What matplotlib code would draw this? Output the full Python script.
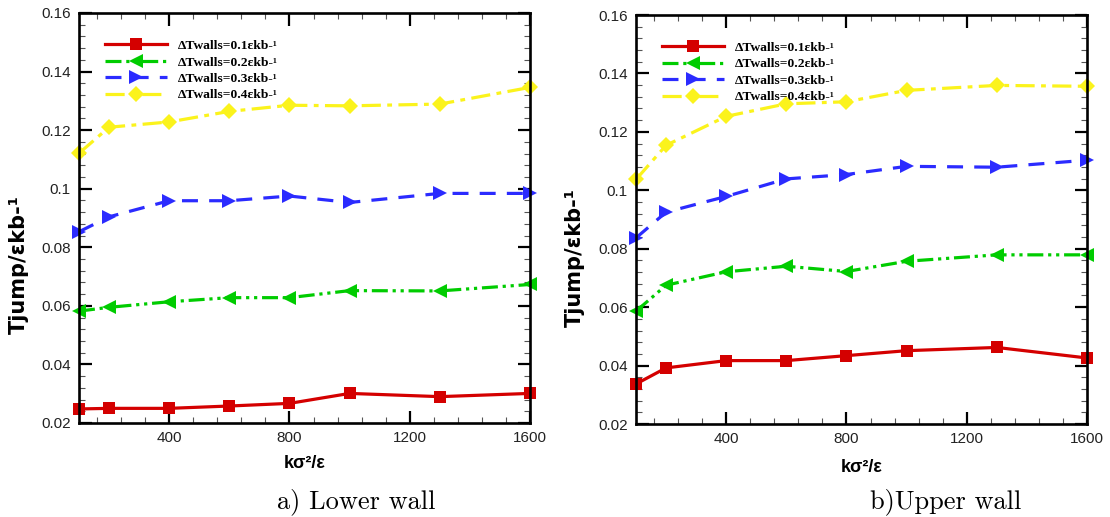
import numpy as np
import matplotlib
matplotlib.use("Agg")
import matplotlib.pyplot as plt
from matplotlib.ticker import MultipleLocator, FuncFormatter

# k sigma^2 / epsilon
k_vals = [100, 200, 400, 600, 800, 1000, 1300, 1600]

# lower wall
lower_01 = [0.0248, 0.0250, 0.0250, 0.0258, 0.0267, 0.0301, 0.0290, 0.0301]
lower_02 = [0.0582, 0.0595, 0.0614, 0.0628, 0.0628, 0.0652, 0.0651, 0.0673]
lower_03 = [0.0853, 0.0904, 0.0959, 0.0959, 0.0975, 0.0953, 0.0984, 0.0984]
lower_04 = [0.1121, 0.1210, 0.1228, 0.1264, 0.1285, 0.1283, 0.1289, 0.1346]

# upper wall
upper_01 = [0.0337, 0.0392, 0.0417, 0.0417, 0.0434, 0.0451, 0.0462, 0.0426]
upper_02 = [0.0586, 0.0675, 0.0721, 0.0740, 0.0722, 0.0757, 0.0779, 0.0779]
upper_03 = [0.0837, 0.0925, 0.0979, 0.1039, 0.1054, 0.1082, 0.1079, 0.1103]
upper_04 = [0.1037, 0.1154, 0.1253, 0.1296, 0.1303, 0.1342, 0.1359, 0.1356]

labels = ["ΔTwalls=0.1εkb-¹", "ΔTwalls=0.2εkb-¹",
          "ΔTwalls=0.3εkb-¹", "ΔTwalls=0.4εkb-¹"]

styles = [
    dict(color="#d40000", linestyle="-", marker="s", markersize=8),
    dict(color="#00cc00", linestyle=(0, (5, 1.5, 1, 1.5, 1, 1.5)), marker="<", markersize=9.5),
    dict(color="#2b2bff", linestyle=(0, (5, 3.5)), marker=">", markersize=9.5),
    dict(color="#fbf31c", linestyle=(0, (6, 2, 1.5, 2)), marker="D", markersize=8.5),
]

fig = plt.figure(figsize=(11.1, 5.17), dpi=100)
ax1 = fig.add_axes([79 / 1110, 94 / 517, 451 / 1110, 410 / 517])
ax2 = fig.add_axes([636 / 1110, 93 / 517, 451 / 1110, 409 / 517])

tick_font = "Liberation Sans"

for ax, series in ((ax1, [lower_01, lower_02, lower_03, lower_04]),
                   (ax2, [upper_01, upper_02, upper_03, upper_04])):
    for y, lab, st in zip(series, labels, styles):
        ax.plot(k_vals, y, label=lab, linewidth=2.3, clip_on=False,
                markeredgewidth=0, **st)
    ax.set_xlim(100, 1600)
    ax.set_ylim(0.02, 0.16)
    ax.xaxis.set_major_locator(MultipleLocator(400))
    ax.xaxis.set_minor_locator(MultipleLocator(80))
    ax.yaxis.set_major_locator(MultipleLocator(0.02))
    ax.yaxis.set_minor_locator(MultipleLocator(0.004))
    ax.yaxis.set_major_formatter(FuncFormatter(lambda v, p: "%g" % round(v, 3)))
    ax.tick_params(which="both", direction="in", top=True, right=True)
    ax.tick_params(which="major", length=9, width=1.6, labelsize=11, pad=6,
                   labelcolor="#222222")
    ax.tick_params(which="minor", length=4.5, width=0.8, color="#555555")
    for lbl in ax.get_xticklabels() + ax.get_yticklabels():
        lbl.set_family(tick_font)
    for sp in ax.spines.values():
        sp.set_linewidth(1.9)
    leg = ax.legend(loc="upper left", bbox_to_anchor=(0.0576, 0.935),
                    frameon=False, handlelength=4.6, handletextpad=0.8,
                    labelspacing=0.3, borderaxespad=0, borderpad=0,
                    prop={"family": "Liberation Serif", "weight": "bold", "size": 9.7})

# axis labels
ylab_font = dict(family="DejaVu Sans", weight="bold", size=15)
xlab_font = dict(family="Liberation Sans", weight="bold", size=13)
fig.text(19 / 1110, 1 - 265 / 517, "Tjump/εkb-¹", rotation=90,
         ha="center", va="center", **ylab_font)
fig.text(575 / 1110, 1 - 258 / 517, "Tjump/εkb-¹", rotation=90,
         ha="center", va="center", **ylab_font)
fig.text(305 / 1110, 1 - 464 / 517, "kσ²/ε", ha="center", va="center", **xlab_font)
fig.text(862 / 1110, 1 - 467 / 517, "kσ²/ε", ha="center", va="center", **xlab_font)

# captions
cap_font = dict(family="cmr10", size=19)
fig.text(356 / 1110, 1 - 502 / 517, "a) Lower wall", ha="center", va="center", **cap_font)
fig.text(946 / 1110, 1 - 502 / 517, "b)Upper wall", ha="center", va="center", **cap_font)

fig.savefig("out.png", dpi=100)
